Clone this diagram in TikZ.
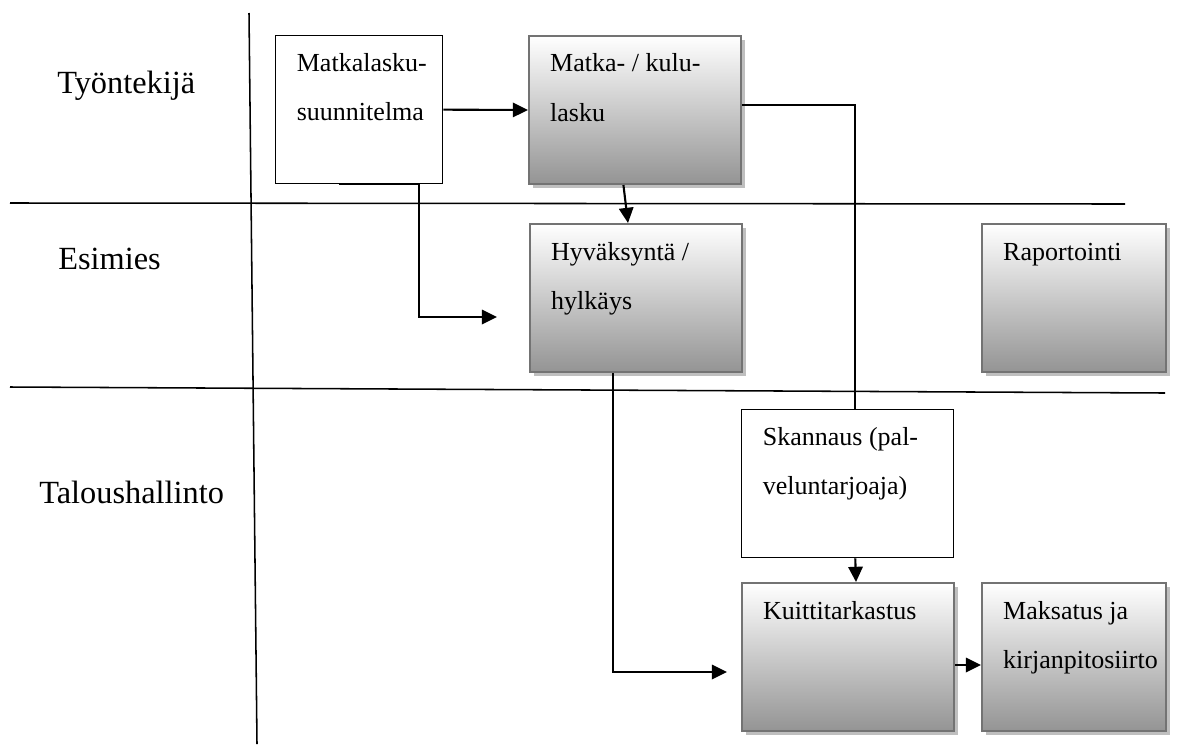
\documentclass[tikz,border=0pt]{standalone}
\usepackage{fontspec}
\setmainfont{Liberation Serif}
\usetikzlibrary{arrows.meta,shadows}

\newcommand{\boxtxt}[2]{\parbox[t][3.7cm][t]{#1}{\raggedright\leftskip=0.53cm\rule{0pt}{0.9cm}#2}}

\tikzset{
  stepbox/.style={draw=black,line width=0.9pt,fill=white,inner sep=0pt,
    anchor=north west,font=\fontsize{18.5}{35}\selectfont},
  shadebox/.style={stepbox,draw=black!55,line width=1.4pt,
    top color=white,bottom color=black!42,
    drop shadow={shadow xshift=0.1cm,shadow yshift=-0.1cm,fill=black!25,opacity=1}},
  lane/.style={anchor=base west,inner sep=0pt,font=\fontsize{23}{28}\selectfont},
  swim/.style={line width=1.1pt},
  link/.style={line width=1.5pt},
  flow/.style={link,-{Triangle[length=0.38cm,width=0.36cm]}}
}

\begin{document}
\begin{tikzpicture}[x=0.025cm,y=-0.025cm]
 \useasboundingbox (0,0) rectangle (1187,744);
 % swimlanes
 \draw[swim] (249,13) -- (257,744);
 \draw[swim] (10,203) -- (1125,204);
 \draw[swim] (10,387) -- (1165,393);
 \node[lane] (worker) at (57,93) {Työntekijä};
 \node[lane] (boss) at (58,269) {Esimies};
 \node[lane] (finance) at (39,503) {Taloushallinto};
 % steps
 \node[stepbox] (plan) at (275,35) {\boxtxt{4.175cm}{Matkalasku-\\suunnitelma}};
 \node[shadebox] (claim) at (528,35) {\boxtxt{5.3cm}{Matka- / kulu-\\lasku}};
 \node[shadebox] (approve) at (529,223) {\boxtxt{5.3cm}{Hyväksyntä /\\hylkäys}};
 \node[shadebox] (report) at (981,223) {\boxtxt{4.6cm}{Raportointi}};
 \node[stepbox] (scan) at (741,409) {\boxtxt{5.3cm}{Skannaus (pal-\\veluntarjoaja)}};
 \node[shadebox] (check) at (741,582) {\boxtxt{5.3cm}{Kuittitarkastus}};
 \node[shadebox] (pay) at (981,582) {\boxtxt{4.6cm}{Maksatus ja\\kirjanpitosiirto}};
 % free ends
 \coordinate (toapp) at (497,317);
 \coordinate (tocheck) at (727,672);
 % flows
 \draw[flow] (plan.east) -- (claim.west);
 \draw[flow] ([xshift=-0.5cm]plan.south) -- ([xshift=1.5cm]plan.south) |- (toapp);
 \draw[flow] ([xshift=-0.29cm]claim.south) -- ([xshift=-0.2cm]approve.north);
 \draw[link] ([yshift=0.125cm]claim.east) -| ([xshift=0.19cm]scan.north);
 \draw[flow] ([xshift=-0.575cm]approve.south) |- (tocheck);
 \draw[flow] ([xshift=0.19cm]scan.south) -- ([xshift=0.2cm]check.north);
 \draw[flow] ([yshift=-0.2cm]check.east) -- ([yshift=-0.2cm]pay.west);
\end{tikzpicture}
\end{document}
